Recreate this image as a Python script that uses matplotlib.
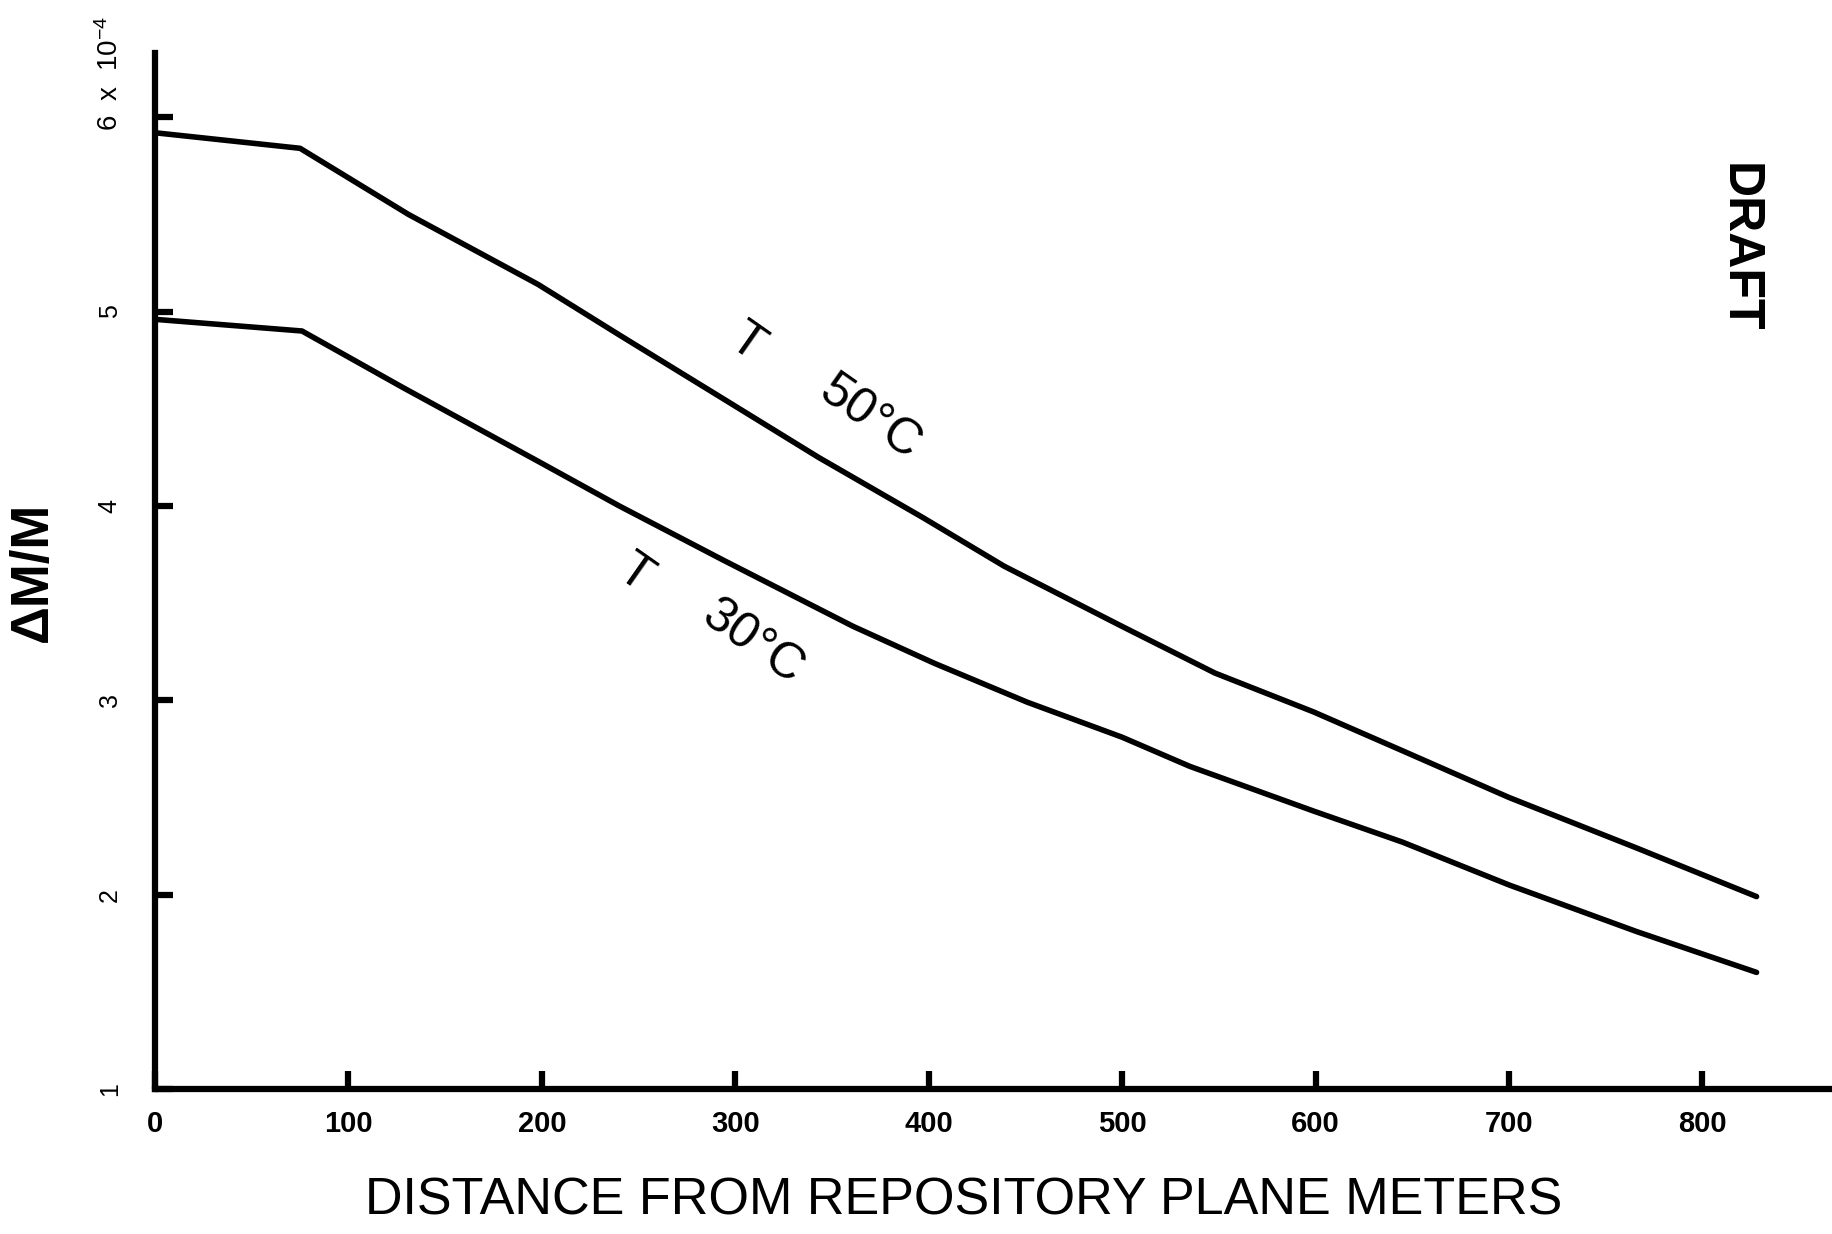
import matplotlib
matplotlib.use("Agg")
import matplotlib.pyplot as plt
from matplotlib import font_manager

# ---- data ----
dist_50 = [0, 75, 131, 198, 240, 294, 343, 397, 439, 500, 548, 599, 645, 700, 766, 828]
dm_50 = [5.92, 5.84, 5.50, 5.14, 4.88, 4.55, 4.25, 3.94, 3.69, 3.38, 3.14, 2.94, 2.74, 2.50, 2.24, 1.99]

dist_30 = [0, 76, 128, 198, 240, 294, 361, 403, 451, 500, 535, 599, 645, 700, 766, 828]
dm_30 = [4.96, 4.90, 4.61, 4.23, 4.00, 3.72, 3.38, 3.19, 2.99, 2.81, 2.66, 2.43, 2.27, 2.05, 1.81, 1.60]

x_ticks = [0, 100, 200, 300, 400, 500, 600, 700, 800]
x_tick_labels = ["0", "100", "200", "300", "400", "500", "600", "700", "800"]
y_ticks = [1, 2, 3, 4, 5, 6]
y_tick_labels = ["1", "2", "3", "4", "5", ""]

plt.rcParams['font.family'] = ['Liberation Sans', 'DejaVu Sans']
plt.rcParams['mathtext.default'] = 'regular'

installed = {f.name for f in font_manager.fontManager.ttflist}
narrow = [f for f in ['Liberation Sans Narrow', 'DejaVu Sans Condensed'] if f in installed] + ['Liberation Sans', 'DejaVu Sans']

fig = plt.figure(figsize=(18.32, 12.34), dpi=100)
fig.patch.set_facecolor('white')
ax = fig.add_axes([0.0846, 0.1175, 0.9154, 0.8395])

ax.plot(dist_50, dm_50, color='black', lw=4.0, solid_joinstyle='round', solid_capstyle='round')
ax.plot(dist_30, dm_30, color='black', lw=4.0, solid_joinstyle='round', solid_capstyle='round')

ax.set_xlim(0, 867)
ax.set_ylim(1, 6.33)

for s in ['top', 'right']:
    ax.spines[s].set_visible(False)
for s in ['left', 'bottom']:
    ax.spines[s].set_linewidth(4.5)
    ax.spines[s].set_color('black')

ax.set_xticks(x_ticks)
ax.set_xticklabels(x_tick_labels, fontsize=21, fontweight='bold', family=narrow)
ax.set_yticks(y_ticks)
ax.set_yticklabels(y_tick_labels, fontsize=18, rotation=90, va='center')
ax.tick_params(axis='x', direction='in', length=13, width=4.5, pad=15)
ax.tick_params(axis='y', direction='in', length=13, width=4.5, pad=24)

ax.annotate("6  x  10$^{-4}$", xy=(0, 6), xycoords=('axes fraction', 'data'),
            xytext=(-32, -10), textcoords='offset points', rotation=90,
            ha='center', va='bottom', fontsize=20)

ax.set_xlabel("DISTANCE FROM REPOSITORY PLANE METERS", fontsize=37.5)
ax.xaxis.set_label_coords(0.526, 0.0267, transform=fig.transFigure)
ax.xaxis.label.set_va('center')

ax.set_ylabel("ΔM/M", fontsize=38, fontweight='bold')
ax.yaxis.set_label_coords(0.018, 0.5365, transform=fig.transFigure)
ax.yaxis.label.set_va('center')

# curve annotations
ax.text(306, 4.84, "T", fontsize=36, rotation=-35, ha='center', va='center')
ax.text(370, 4.45, "50°C", fontsize=36, rotation=-35, ha='center', va='center')
ax.text(248, 3.65, "T", fontsize=36, rotation=-35, ha='center', va='center')
ax.text(309, 3.30, "30°C", fontsize=36, rotation=-35, ha='center', va='center')

fig.text(0.949, 0.799, "DRAFT", rotation=-90, fontsize=36, fontweight='bold',
         family=narrow, ha='center', va='center')

fig.savefig("out.png", dpi=100, facecolor='white')
